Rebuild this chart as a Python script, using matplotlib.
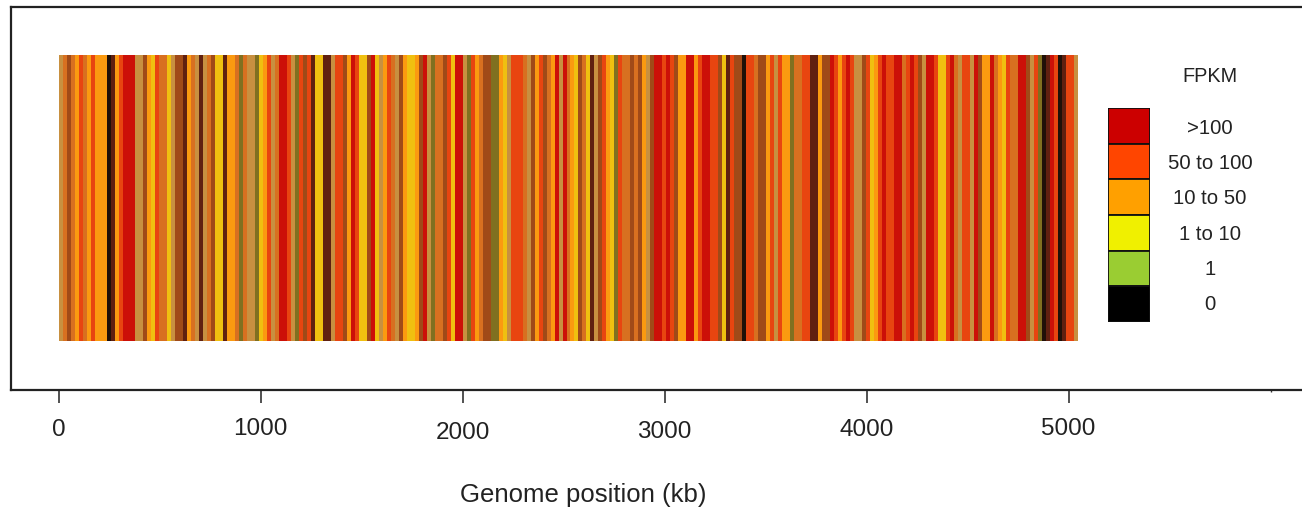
import numpy as np
import matplotlib
matplotlib.use("Agg")
import matplotlib.pyplot as plt
from matplotlib.colors import to_rgb

plt.rcParams['font.family'] = ['Liberation Sans', 'DejaVu Sans']

# expression class along the genome, one letter per bin
seg1 = "TMBMAOMAOAAAKDAORRRTTBAYOMMYTBBD"
seg2 = "AMTDTMBYYDAAMLMTTLYAOTMRROTLOBOD"
seg3 = "YYDDTOOBAROYYBRYTAOMTBAYYABRTLMM"
seg4 = "BOYRRTLOAMBBLLAYTOOOMTBAOBMARTRM"
seg5 = "AYBMYDTBOAYLOMMBMBATBRROROBAARRA"
seg6 = "ORROOBYDOBBKOOMBBAOTOAALMMOODDAB"
seg7 = "BROAOROTTBOYAOROORRMOROBTRROYYOR"
seg8 = "MTOOTRBAARMAYOMMRRBTOLKDROKDOOT"
genome_end = 5042

# the picture is blurred, so thin stripes show up as mixed tones
band_colors = {"R": "#cc1008", "O": "#e84510", "A": "#fb9a10", "Y": "#f0c010",
               "M": "#d87020", "B": "#a04a18", "D": "#602010", "K": "#201008",
               "T": "#c89040", "L": "#807020"}

legend_labels = [">100", "50 to 100", "10 to 50", "1 to 10", "1", "0"]
legend_colors = ["#cc0000", "#ff4500", "#ffa000", "#f0f000", "#9acd32", "#000000"]
x_ticks = [0, 1000, 2000, 3000, 4000, 5000]
x_tick_labels = ["0", "1000", "2000", "3000", "4000", "5000"]

W, H = 1302, 509
fig = plt.figure(figsize=(W / 100, H / 100), dpi=100)


def px_axes(x0, y0, x1, y1):
    return fig.add_axes([x0 / W, 1 - y1 / H, (x1 - x0) / W, (y1 - y0) / H])


ax = px_axes(11, 7, W, 390)
codes = seg1 + seg2 + seg3 + seg4 + seg5 + seg6 + seg7 + seg8
rgb = np.array([to_rgb(band_colors[c]) for c in codes])[None, :, :]
ax.imshow(rgb, extent=[0, genome_end, 341, 56], aspect="auto", interpolation="nearest")
ax.set_xlim((11 - 58.5) / 0.202, (W - 58.5) / 0.202)
ax.set_ylim(390, 7)  # y in picture pixels, the y axis carries no scale

for s in ["top", "left", "bottom"]:
    ax.spines[s].set_linewidth(1.6)
    ax.spines[s].set_color("#222222")
ax.spines["right"].set_visible(False)
ax.set_yticks([])
ax.set_xticks(x_ticks)
ax.set_xticklabels([])
ax.set_xticks([6000], minor=True)
ax.tick_params(axis="x", which="major", length=9.5, width=1.2, color="#333333")
ax.tick_params(axis="x", which="minor", length=1.5, width=1, color="#333333")

# tick labels wander a little in the original scan
label_y = [430, 429, 433, 432, 430, 429]
for t, lab, y in zip(x_ticks, x_tick_labels, label_y):
    fig.text((58.5 + t * 0.202) / W, 1 - y / H, lab, ha="center", va="center",
             fontsize=17.5, color="#222222")
fig.text(583 / W, 1 - 495 / H, "Genome position (kb)", ha="center", va="center",
         fontsize=18.5, color="#222222")

# legend
lax = px_axes(1108, 108, 1150, 322)
lax.barh(range(len(legend_colors)), 1, height=1, left=0, color=legend_colors,
         edgecolor="#111111", linewidth=1.3)
lax.set_xlim(0, 1)
lax.set_ylim(len(legend_colors) - 0.5, -0.5)
lax.axis("off")
for i, lab in enumerate(legend_labels):
    fig.text(1210 / W, 1 - (128 + i * 35.4) / H, lab, ha="center", va="center",
             fontsize=14.7, color="#222222")
fig.text(1210 / W, 1 - 76 / H, "FPKM", ha="center", va="center", fontsize=14.3,
         color="#222222")

fig.savefig("out.png", dpi=100)
